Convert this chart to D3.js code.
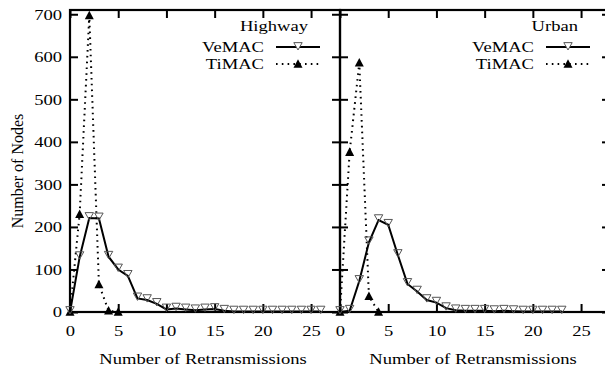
<!DOCTYPE html>
<html>
<head>
<meta charset="utf-8">
<script src="https://cdn.jsdelivr.net/npm/d3@7"></script>
<style>
  body { margin: 0; background: #fff; }
  text { font-family: "Liberation Serif", "Times New Roman", serif; fill: #000; }
</style>
</head>
<body>
<svg width="605" height="369"></svg>
<script>
// number of retransmissions (x) for each series
var highwayVeMACx = d3.range(0, 27);
var highwayVeMAC = [0, 129, 221, 220, 130, 100, 85, 32, 28, 19, 6, 8, 6, 4, 6, 7, 3, 1, 1, 1, 1, 1, 1, 1, 1, 1, 1];
var highwayTiMACx = [0, 1, 2, 3, 4, 5];
var highwayTiMAC = [0, 230, 697, 65, 3, 0];

var urbanVeMACx = d3.range(0, 24);
var urbanVeMAC = [0, 3, 73, 164, 216, 205, 134, 66, 48, 28, 22, 9, 4, 3, 3, 3, 2, 3, 2, 1, 1, 1, 1, 1];
var urbanTiMACx = [0, 1, 2, 3, 4];
var urbanTiMAC = [0, 376, 586, 37, 0];

var xTicks = [0, 5, 10, 15, 20, 25];
var yTicks = [0, 100, 200, 300, 400, 500, 600, 700];
var seriesNames = ["VeMAC", "TiMAC"];
var panelNames = ["Highway", "Urban"];

var svg = d3.select("svg");
var sx = 1.24; // glyphs in the figure are stretched sideways
var fontSize = 15;

var plotTop = 10, plotBottom = 312, panelW = 270;
var panels = [
  { name: panelNames[0], left: 70, ve: d3.zip(highwayVeMACx, highwayVeMAC), ti: d3.zip(highwayTiMACx, highwayTiMAC), labels: true },
  { name: panelNames[1], left: 340, ve: d3.zip(urbanVeMACx, urbanVeMAC), ti: d3.zip(urbanTiMACx, urbanTiMAC), labels: false }
];

var y = d3.scaleLinear().domain([0, 710]).range([plotBottom, plotTop]);

function stretchText(sel, anchorX) {
  // scale glyphs horizontally, keep anchor point where it was
  sel.attr("transform", "scale(" + sx + ",1)")
     .attr("x", anchorX / sx);
}

function downTri(s) { return "M" + (-s) + "," + (-s * 0.8) + "L" + s + "," + (-s * 0.8) + "L0," + (s * 0.95) + "Z"; }
function upTri(s) { return "M0," + (-s * 1.05) + "L" + s + "," + (s * 0.85) + "L" + (-s) + "," + (s * 0.85) + "Z"; }

panels.forEach(function(p) {
  var x = d3.scaleLinear().domain([0, 28]).range([p.left, p.left + panelW]);
  var g = svg.append("g");

  // axes, ticks pointing inward on all four sides
  var bx = g.append("g").attr("transform", "translate(0," + plotBottom + ")")
    .call(d3.axisBottom(x).tickValues(xTicks).tickSizeInner(-8).tickSizeOuter(0).tickPadding(13));
  var tx = g.append("g").attr("transform", "translate(0," + plotTop + ")")
    .call(d3.axisTop(x).tickValues(xTicks).tickSizeInner(-8).tickSizeOuter(0).tickFormat(""));
  var ly = g.append("g").attr("transform", "translate(" + p.left + ",0)")
    .call(d3.axisLeft(y).tickValues(yTicks).tickSizeInner(-8).tickSizeOuter(0).tickPadding(8));
  var ry = g.append("g").attr("transform", "translate(" + (p.left + panelW) + ",0)")
    .call(d3.axisRight(y).tickValues(yTicks).tickSizeInner(-8).tickSizeOuter(0).tickFormat(""));

  [bx, tx, ly, ry].forEach(function(a) {
    a.select(".domain").remove();
    a.selectAll("line").attr("stroke", "#000").attr("stroke-width", 2);
  });
  bx.selectAll("text").style("font-size", fontSize + "px").attr("fill", "#000").call(stretchText, 0);
  if (p.labels) {
    ly.selectAll("text").style("font-size", fontSize + "px").attr("fill", "#000").call(stretchText, -8);
  } else {
    ly.selectAll("text").remove();
  }

  g.append("rect")
    .attr("x", p.left).attr("y", plotTop)
    .attr("width", panelW).attr("height", plotBottom - plotTop)
    .attr("fill", "none").attr("stroke", "#000").attr("stroke-width", 2.2);

  // x title
  g.append("text")
    .attr("y", 364)
    .attr("text-anchor", "middle")
    .style("font-size", fontSize + "px")
    .text("Number of Retransmissions")
    .call(stretchText, p.left + panelW / 2 - 2);

  var line = d3.line().x(function(d) { return x(d[0]); }).y(function(d) { return y(d[1]); });

  // TiMAC (dotted, filled up triangles)
  g.append("path").datum(p.ti)
    .attr("d", line)
    .attr("fill", "none").attr("stroke", "#000")
    .attr("stroke-width", 2).attr("stroke-dasharray", "1.6,4.2");
  g.selectAll(".ti").data(p.ti).enter().append("path")
    .attr("transform", function(d) { return "translate(" + x(d[0]) + "," + y(d[1]) + ")"; })
    .attr("d", upTri(4.5)).attr("fill", "#000");

  // VeMAC (solid, hollow down triangles)
  g.append("path").datum(p.ve)
    .attr("d", line)
    .attr("fill", "none").attr("stroke", "#000").attr("stroke-width", 2);
  g.selectAll(".ve").data(p.ve).enter().append("path")
    .attr("transform", function(d) { return "translate(" + x(d[0]) + "," + (y(d[1]) - 2) + ")"; })
    .attr("d", downTri(4.2)).attr("fill", "none").attr("stroke", "#555").attr("stroke-width", 1);

  // legend
  var lx = p.left + 194;
  g.append("text").attr("y", 31).attr("text-anchor", "end")
    .style("font-size", fontSize + "px").text(p.name)
    .call(stretchText, p.left + 238);
  [[seriesNames[0], 47], [seriesNames[1], 64]].forEach(function(s, i) {
    g.append("text").attr("y", s[1] + 5).attr("text-anchor", "end")
      .style("font-size", fontSize + "px").text(s[0])
      .call(stretchText, lx);
    g.append("line")
      .attr("x1", lx + 12).attr("x2", lx + 56)
      .attr("y1", s[1]).attr("y2", s[1])
      .attr("stroke", "#000").attr("stroke-width", 2)
      .attr("stroke-dasharray", i == 1 ? "1.6,4.2" : null);
    g.append("path")
      .attr("transform", "translate(" + (lx + 34) + "," + (i == 0 ? s[1] - 1 : s[1]) + ")")
      .attr("d", i == 0 ? downTri(4.2) : upTri(4.5))
      .attr("fill", i == 0 ? "#fff" : "#000")
      .attr("stroke", i == 0 ? "#555" : "none").attr("stroke-width", 1);
  });
});

// y title
svg.append("text")
  .attr("transform", "translate(23,171) rotate(-90)")
  .attr("text-anchor", "middle")
  .style("font-size", "16px")
  .text("Number of Nodes");
</script>
</body>
</html>
